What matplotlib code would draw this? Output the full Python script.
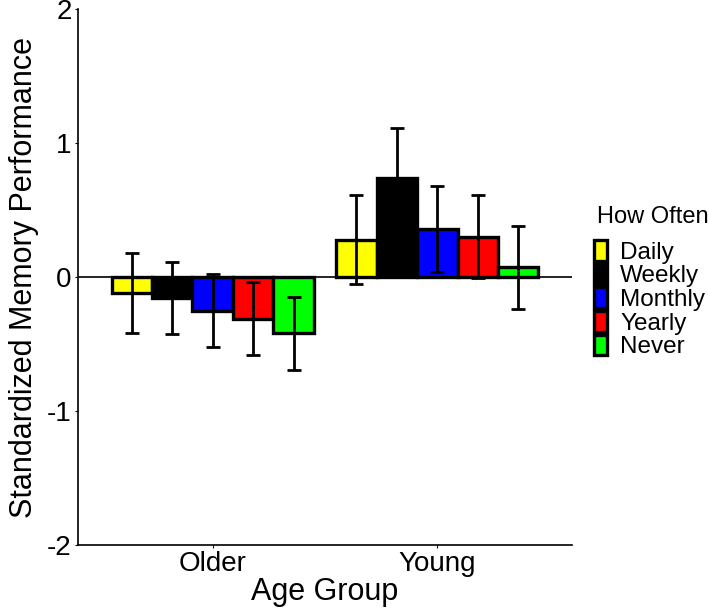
import matplotlib
matplotlib.use("Agg")
import matplotlib.pyplot as plt
import numpy as np

plt.rcParams['font.family'] = ['Liberation Sans', 'DejaVu Sans']
plt.rcParams['axes.unicode_minus'] = False

# datos
grupos = ["Older", "Young"]
frecuencias = ["Daily", "Weekly", "Monthly", "Yearly", "Never"]
colores = ["#FFFF00", "#000000", "#0000FF", "#FF0000", "#00FF00"]
media_older = [-0.12, -0.155, -0.25, -0.31, -0.42]
error_older = [0.30, 0.27, 0.27, 0.27, 0.27]
media_young = [0.28, 0.74, 0.36, 0.30, 0.075]
error_young = [0.33, 0.37, 0.32, 0.31, 0.31]

fig = plt.figure(figsize=(7.08, 6.09), dpi=100)
ax = fig.add_axes([0.110, 0.105, 0.698, 0.880])

x = np.arange(1, len(grupos) + 1)
ancho = 0.9 / len(frecuencias)
barras = []
for i, f in enumerate(frecuencias):
    pos = x + (i - 2) * ancho
    vals = [media_older[i], media_young[i]]
    errs = [error_older[i], error_young[i]]
    b = ax.bar(pos, vals, width=ancho, color=colores[i], edgecolor="black",
               linewidth=2.4, label=f, zorder=2)
    barras.append(b)
    ax.errorbar(pos, vals, yerr=errs, fmt="none", ecolor="black",
                elinewidth=2, capsize=5, capthick=2, zorder=3)

ax.axhline(0, color="black", linewidth=1.2, zorder=4)

ax.set_xlim(0.4, 2.6)
ax.set_ylim(-2, 2)
ax.set_yticks([-2, -1, 0, 1, 2])
ax.set_xticks(x)
ax.set_xticklabels(grupos)
ax.tick_params(axis="both", labelsize=20, length=2.5, width=0.8,
               color="black", labelcolor="black", pad=2)

for s in ["top", "right"]:
    ax.spines[s].set_visible(False)
for s in ["left", "bottom"]:
    ax.spines[s].set_linewidth(1.2)

ax.set_xlabel("Age Group", fontsize=22, labelpad=0)
ax.set_ylabel("Standardized Memory Performance", fontsize=22, labelpad=6)

# leyenda: titulo aparte para controlar el espacio
fig.text(597 / 708, 1 - 206 / 609, "How Often", fontsize=17,
         ha="left", va="top")
fig.legend(handles=barras, labels=frecuencias,
           loc="upper left", bbox_to_anchor=(594 / 708, 1 - 240 / 609),
           frameon=False, fontsize=17.5,
           labelspacing=0.0, handlelength=0.53, handleheight=0.93,
           handletextpad=0.55, borderpad=0.0, borderaxespad=0.0)

fig.savefig("out.png", dpi=100)
